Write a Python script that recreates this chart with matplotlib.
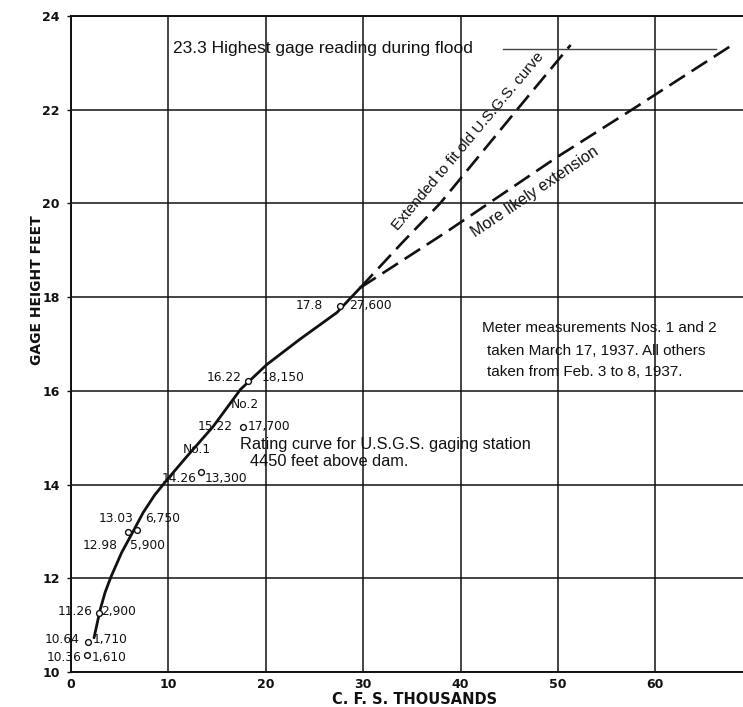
import matplotlib
matplotlib.use("Agg")
import matplotlib.pyplot as plt

# ---------------------------------------------------------------------------
# Data: rating curve, U.S.G.S. gaging station
# ---------------------------------------------------------------------------
meas_cfs = [1.61, 1.71, 2.9, 5.9, 6.75, 13.3, 17.7, 18.15, 27.6]        # thousands
meas_gage = [10.36, 10.64, 11.26, 12.98, 13.03, 14.26, 15.22, 16.22, 17.8]
gage_labels = ["10.36", "10.64", "11.26", "12.98", "13.03", "14.26", "15.22", "16.22", "17.8"]
cfs_labels = ["1,610", "1,710", "2,900", "5,900", "6,750", "13,300", "17,700", "18,150", "27,600"]

curve_cfs = [2.36, 2.98, 3.5, 4.1, 5.2, 6.3, 7.4, 8.6, 9.85, 11.9, 14.6, 17.4,
             20.1, 23.5, 27.3, 29.7]
curve_gage = [10.73, 11.32, 11.7, 12.03, 12.55, 12.97, 13.4, 13.78, 14.1, 14.6,
              15.24, 16.03, 16.56, 17.1, 17.67, 18.2]

old_usgs_cfs = [29.7, 34.0, 37.9, 45.8, 51.3]
old_usgs_gage = [18.2, 19.16, 20.0, 22.0, 23.38]
likely_cfs = [29.7, 38.4, 50.0, 57.6, 67.9]
likely_gage = [18.2, 19.37, 21.0, 22.0, 23.38]

flood_gage = 23.3
flood_cfs_span = [44.4, 66.2]

x_ticks = [0, 10, 20, 30, 40, 50, 60]
y_ticks = [10, 12, 14, 16, 18, 20, 22, 24]

# label offsets (pixels) from each circle: left label, right label
left_off = [(-5, -2), (-8, 3), (-7, 1), (-11, -13), (-3, 12), (-4, -6), (-11, 1), (-6, 3), (-17, 1)]
right_off = [(5, -2), (5, 3), (2, 1), (2, -13), (8, 12), (4, -6), (4, 1), (14, 3), (9, 1)]

INK = "#111111"
LABEL_FONT = "DejaVu Sans"
NOTE_FONT = "Liberation Sans"

fig = plt.figure(figsize=(7.43, 7.07), dpi=100)
ax = fig.add_axes([0.0956, 0.0495, 0.9044, 0.928])
ax.set_xlim(0, 69.0)
ax.set_ylim(10, 24)

for s in ("left", "bottom", "top"):
    ax.spines[s].set_color(INK)
    ax.spines[s].set_linewidth(1.4)
ax.spines["right"].set_visible(False)

ax.set_xticks(x_ticks)
ax.set_yticks(y_ticks)
ax.tick_params(axis="both", direction="out", width=1, color=INK,
               labelcolor=INK, labelsize=9)
ax.tick_params(axis="x", length=0, pad=4)
ax.tick_params(axis="y", length=3, pad=5)
for lab in ax.get_xticklabels() + ax.get_yticklabels():
    lab.set_fontweight("bold")
    lab.set_family(LABEL_FONT)

ax.grid(True, color=INK, linewidth=1.1, zorder=1)

# rating curve and extensions
ax.plot(curve_cfs, curve_gage, color=INK, linewidth=2.0, zorder=3,
        solid_capstyle="round")
ax.plot(old_usgs_cfs, old_usgs_gage, color=INK, linewidth=1.9,
        dashes=(7, 3), zorder=3)
ax.plot(likely_cfs, likely_gage, color=INK, linewidth=1.9,
        dashes=(7, 3), zorder=3)
ax.plot(flood_cfs_span, [flood_gage, flood_gage], color="#444444",
        linewidth=1.0, zorder=2)

# measurements
ax.plot(meas_cfs, meas_gage, linestyle="none", marker="o", markersize=4.2,
        markerfacecolor="white", markeredgecolor=INK, markeredgewidth=1.0,
        zorder=4)
for x, y, gl, cl, lo, ro in zip(meas_cfs, meas_gage, gage_labels, cfs_labels,
                                left_off, right_off):
    ax.annotate(gl, (x, y), xytext=lo, textcoords="offset pixels",
                ha="right", va="center", fontsize=8.8, family=LABEL_FONT,
                color=INK, zorder=5)
    ax.annotate(cl, (x, y), xytext=ro, textcoords="offset pixels",
                ha="left", va="center", fontsize=8.8, family=LABEL_FONT,
                color=INK, zorder=5)

ax.text(11.5, 14.74, "No.1", fontsize=8.8, family=LABEL_FONT, color=INK,
        ha="left", va="center")
ax.text(16.4, 15.70, "No.2", fontsize=8.8, family=LABEL_FONT, color=INK,
        ha="left", va="center")

# notes
ax.text(10.48, 23.3, "23.3 Highest gage reading during flood", fontsize=12.5,
        family=NOTE_FONT, color=INK, ha="left", va="center")
ax.text(40.75, 21.33, "Extended to fit old U.S.G.S. curve", fontsize=11,
        family=NOTE_FONT, color=INK, ha="center", va="center", rotation=50,
        rotation_mode="anchor")
ax.text(47.6, 20.24, "More likely extension", fontsize=11.5,
        family=NOTE_FONT, color=INK, ha="center", va="center", rotation=34,
        rotation_mode="anchor")
ax.text(17.3, 14.85, "Rating curve for U.S.G.S. gaging station", fontsize=11.8,
        family=NOTE_FONT, color=INK, ha="left", va="center")
ax.text(18.4, 14.49, "4450 feet above dam.", fontsize=11.8,
        family=NOTE_FONT, color=INK, ha="left", va="center")
ax.text(42.2, 17.33, "Meter measurements Nos. 1 and 2", fontsize=11,
        family=NOTE_FONT, color=INK, ha="left", va="center")
ax.text(42.7, 16.86, "taken March 17, 1937. All others", fontsize=11,
        family=NOTE_FONT, color=INK, ha="left", va="center")
ax.text(42.7, 16.41, "taken from Feb. 3 to 8, 1937.", fontsize=11,
        family=NOTE_FONT, color=INK, ha="left", va="center")

# axis titles
fig.text(415 / 743, 1 - 700 / 707, "C. F. S. THOUSANDS", fontsize=10.5,
         fontweight="bold", family=LABEL_FONT, color=INK, ha="center", va="center")
fig.text(37 / 743, 1 - 290 / 707, "GAGE HEIGHT FEET", fontsize=10,
         fontweight="bold", family=LABEL_FONT, color=INK, ha="center", va="center",
         rotation=90)

fig.savefig("out.png", dpi=100, facecolor="white")
